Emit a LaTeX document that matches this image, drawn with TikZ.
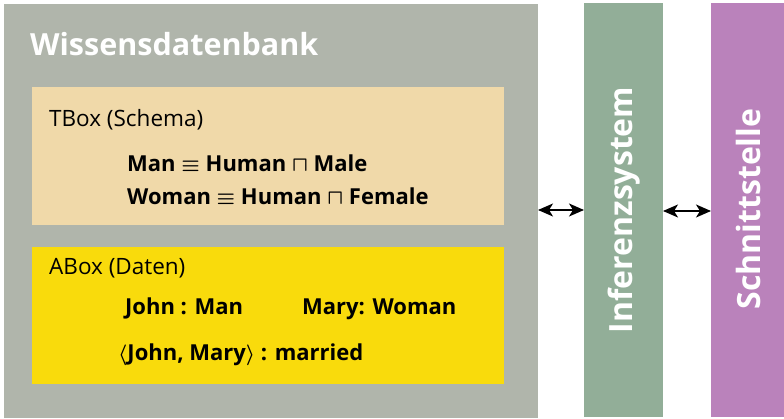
\documentclass[tikz,border=0pt]{standalone}
\usepackage{fontspec}
\setmainfont{Open Sans}
\usetikzlibrary{arrows.meta}
\definecolor{wgray}{HTML}{B0B5AB}
\definecolor{tboxtan}{HTML}{F0D9A9}
\definecolor{aboxyel}{HTML}{F9DB0C}
\definecolor{infgreen}{HTML}{92AE98}
\definecolor{ifpurple}{HTML}{BA82BB}

\begin{document}
\begin{tikzpicture}[x=1pt,y=-1pt,
  box/.style={anchor=north west,inner sep=0pt,outer sep=0pt},
  lbl/.style={anchor=base west,inner sep=0pt,font=\fontsize{22.5}{26}\selectfont},
  fml/.style={anchor=base west,inner sep=0pt,font=\fontsize{22}{26}\selectfont\bfseries\boldmath},
  vlbl/.style={rotate=90,inner sep=0pt,text=white,font=\fontsize{32}{36}\selectfont\bfseries},
  biarrow/.style={{Stealth[length=15pt,width=13pt,inset=4pt]}-{Stealth[length=15pt,width=13pt,inset=4pt]},line width=1.4pt}]
  \useasboundingbox (0,0) rectangle (784,419);

  % Wissensdatenbank with TBox and ABox
  \node[box,fill=wgray,minimum width=534pt,minimum height=414pt] (wdb) at (4,4) {};
  \node[anchor=base west,inner sep=0pt,text=white,
    font=\fontsize{30.5}{36}\selectfont\bfseries] (wdbt) at (30,56) {Wissensdatenbank};
  \node[box,fill=tboxtan,minimum width=472pt,minimum height=138pt] (tbox) at (32,87) {};
  \node[lbl] (tboxt) at (49,127) {TBox (Schema)};
  \node[fml] (ax1) at (127,172) {Man $\equiv$ Human $\sqcap$ Male};
  \node[fml] (ax2) at (127,205) {Woman $\equiv$ Human $\sqcap$ Female};
  \node[box,fill=aboxyel,minimum width=472pt,minimum height=137pt] (abox) at (32,247) {};
  \node[lbl] (aboxt) at (49,275) {ABox (Daten)};
  \node[fml] (as1) at (125,315) {John : Man};
  \node[fml] (as2) at (302,315) {Mary: Woman};
  \node[fml] (as3) at (118,360) {$\langle$John, Mary$\rangle$ : married};

  % Inferenzsystem and Schnittstelle
  \node[box,fill=infgreen,minimum width=79pt,minimum height=414pt] (inf) at (584,3) {};
  \node[vlbl] (inft) at (624,210) {Inferenzsystem};
  \node[box,fill=ifpurple,minimum width=74pt,minimum height=414pt] (schn) at (711,3) {};
  \node[vlbl] (schnt) at (748,209) {Schnittstelle};

  \draw[biarrow] (wdb.east |- 0,210) -- (inf.west |- 0,210);
  \draw[biarrow] (inf.east |- 0,211) -- (schn.west |- 0,211);
\end{tikzpicture}
\end{document}
